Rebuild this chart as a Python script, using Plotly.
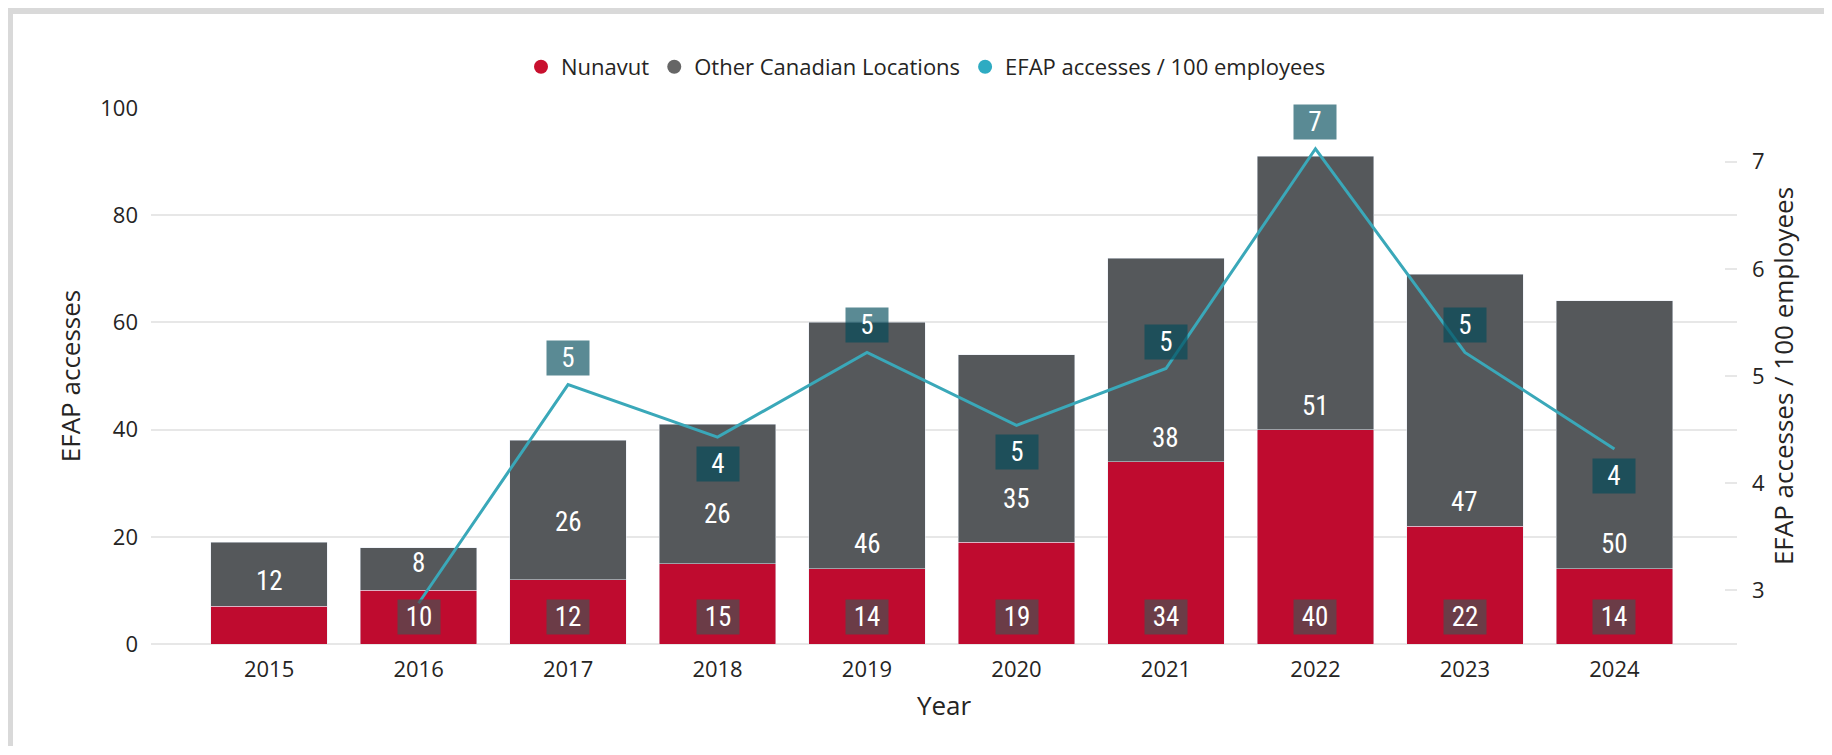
import plotly.graph_objects as go

# data
years = ["2015", "2016", "2017", "2018", "2019", "2020", "2021", "2022", "2023", "2024"]
nunavut = [7, 10, 12, 15, 14, 19, 34, 40, 22, 14]
other_locations = [12, 8, 26, 26, 46, 35, 38, 51, 47, 50]
efap_per_100 = [None, 2.88, 4.92, 4.43, 5.22, 4.54, 5.07, 7.12, 5.22, 4.32]

# label placement (kept apart from the values)
nunavut_label_shown = [False, True, True, True, True, True, True, True, True, True]
other_label_lift_px = [25, 27, 58, 50, 25, 43, 24, 24, 24, 25]
rate_label_side = [None, None, "above", "below", "above", "below", "above", "above", "above", "below"]

RED = "#bf0b2f"
GREY = "#55585b"
TEAL = "#3aa8b9"
TEXT = "#252423"
GRID = "#e7e7e7"
AXIS_FONT = "Open Sans, Noto Sans, sans-serif"
LABEL_FONT = "Liberation Sans Narrow, Roboto Condensed, DejaVu Sans Condensed, Roboto, sans-serif"

# figure geometry in pixels (page body adds an 8px margin around the figure)
W, H = 1816, 738
ML, MR, MT, MB = 143, 87, 100, 102
PW, PH = W - ML - MR, H - MT - MB


def paper_x(px):
    return (px - ML) / PW


def paper_y(py):
    return (H - MB - py) / PH


fig = go.Figure()

# stacked bars
fig.add_trace(go.Bar(x=years, y=nunavut, marker_color=RED, width=0.78,
                     showlegend=False, hoverinfo="skip"))
fig.add_trace(go.Bar(x=years, y=other_locations, marker_color=GREY, width=0.78,
                     showlegend=False, hoverinfo="skip"))

# rate line on the secondary axis
fig.add_trace(go.Scatter(x=years, y=efap_per_100, yaxis="y2", mode="lines",
                         line=dict(color=TEAL, width=3), showlegend=False,
                         hoverinfo="skip"))

# legend entries with round markers
for name, col in [("Nunavut", "#c8102e"), ("Other Canadian Locations", "#666666"),
                  ("EFAP accesses / 100 employees", "#2eabc2")]:
    fig.add_trace(go.Scatter(x=[None], y=[None], mode="markers", name=name,
                             marker=dict(symbol="circle", size=14, color=col)))

annotations = []
for i, yr in enumerate(years):
    # category axis: annotations use the category index
    if nunavut_label_shown[i]:
        annotations.append(dict(
            x=i, y=0, xref="x", yref="y", yanchor="bottom", yshift=9,
            text=str(nunavut[i]), showarrow=False, width=40, height=32, borderpad=1,
            bgcolor="rgba(78,78,79,0.74)",
            font=dict(family=LABEL_FONT, size=27, color="white")))
    annotations.append(dict(
        x=i, y=nunavut[i], xref="x", yref="y", yanchor="middle",
        yshift=other_label_lift_px[i], text=str(other_locations[i]), showarrow=False,
        font=dict(family=LABEL_FONT, size=27, color="white")))
    side = rate_label_side[i]
    if side is not None:
        annotations.append(dict(
            x=i, y=efap_per_100[i], xref="x", yref="y2", yanchor="middle",
            yshift=27 if side == "above" else -27,
            text=str(round(efap_per_100[i])), showarrow=False,
            width=40, height=32, borderpad=1, bgcolor="rgba(2,76,91,0.65)",
            font=dict(family=LABEL_FONT, size=27, color="white")))

# light grey frame on the top and left edges
shapes = [
    dict(type="rect", xref="paper", yref="paper", x0=paper_x(0), x1=paper_x(W),
         y0=paper_y(6), y1=paper_y(0), fillcolor="#d9d9d9", line=dict(width=0)),
    dict(type="rect", xref="paper", yref="paper", x0=paper_x(0), x1=paper_x(5),
         y0=paper_y(H), y1=paper_y(0), fillcolor="#d9d9d9", line=dict(width=0)),
]

fig.update_layout(
    width=W, height=H, autosize=False,
    margin=dict(l=ML, r=MR, t=MT, b=MB, pad=0),
    barmode="stack",
    paper_bgcolor="white", plot_bgcolor="white",
    font=dict(family=AXIS_FONT, size=22, color=TEXT),
    legend=dict(orientation="h", traceorder="normal", x=paper_x(918), y=paper_y(59),
                xanchor="center", yanchor="middle", itemwidth=30,
                font=dict(size=22, color=TEXT), bgcolor="rgba(0,0,0,0)"),
    xaxis=dict(type="category", range=[-0.79, 9.82], showgrid=False, showline=False,
               zeroline=False, ticks="", ticklabelstandoff=10,
               title=dict(text="Year", standoff=14)),
    yaxis=dict(range=[0, 100], dtick=20, showgrid=True, gridcolor=GRID, gridwidth=2,
               zeroline=True, zerolinecolor=GRID, zerolinewidth=2, showline=False,
               ticks="", ticklabelstandoff=12,
               title=dict(text="EFAP accesses", standoff=12)),
    yaxis2=dict(overlaying="y", side="right", range=[2.5, 7.5], tickvals=[3, 4, 5, 6, 7],
                showgrid=False, zeroline=False, showline=False, ticks="inside",
                ticklen=12, tickwidth=2, tickcolor=GRID, ticklabelstandoff=14,
                title=dict(text="EFAP accesses / 100 employees", standoff=10)),
    annotations=annotations,
    shapes=shapes,
)

fig.write_html("out.html")
